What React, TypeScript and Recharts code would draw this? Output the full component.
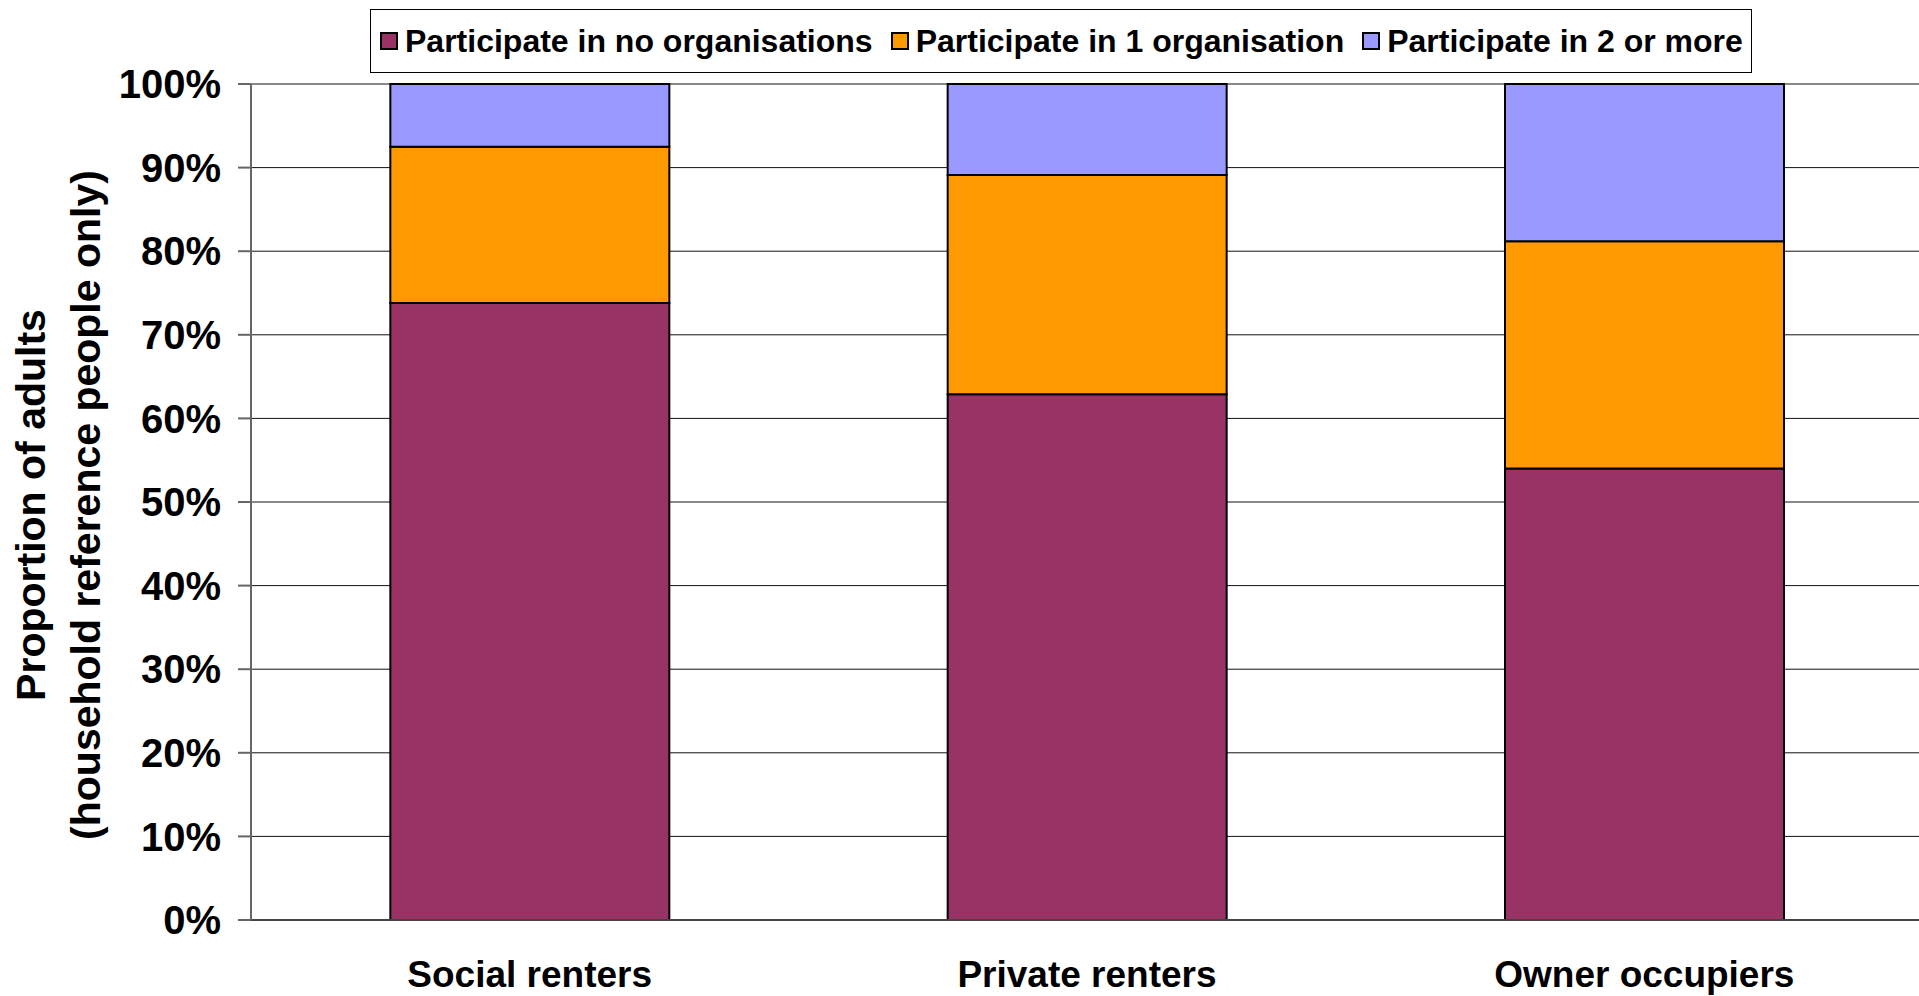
import React from 'react'
import { BarChart, Bar, XAxis, YAxis, CartesianGrid, Legend } from 'recharts'

// tenure groups along the x axis
const tenures = ['Social renters', 'Private renters', 'Owner occupiers']

// % of household reference people by number of organisations
const noOrgs = [73.8, 62.9, 54.0]
const oneOrg = [18.7, 26.2, 27.2]
const twoPlus = [7.5, 10.9, 18.8]

const seriesNames = [
  'Participate in no organisations',
  'Participate in 1 organisation',
  'Participate in 2 or more',
]

const yTicks = [0, 10, 20, 30, 40, 50, 60, 70, 80, 90, 100]
const bandEdges = [0, 1, 2, 3]

const data = tenures.map((name, i) => ({
  name,
  pos: i + 0.5,
  none: noOrgs[i],
  one: oneOrg[i],
  more: twoPlus[i],
}))

const FONT = "'Liberation Sans', Arial, Helvetica, sans-serif"

const AxisTitle = (props: any) => {
  const vb = props.viewBox || { y: 0, height: 0 }
  const cy = vb.y + vb.height / 2
  return (
    <text
      transform={`translate(0, ${cy + 3}) rotate(-90)`}
      textAnchor="middle"
      dominantBaseline="central"
      fontFamily={FONT}
      fontWeight="bold"
      fontSize={41}
      fill="#000"
    >
      <tspan x={0} y={31}>Proportion of adults</tspan>
      <tspan x={0} y={86}>(household reference people only)</tspan>
    </text>
  )
}

const LegendBox = (props: any) => {
  // keep the series order rather than alphabetical
  const items = [...(props.payload || [])].sort(
    (a: any, b: any) => seriesNames.indexOf(a.value) - seriesNames.indexOf(b.value)
  )
  return (
    <div
      style={{
        display: 'flex',
        alignItems: 'center',
        height: 62,
        border: '1px solid #000',
        background: '#fff',
        paddingLeft: 9,
        paddingRight: 8,
        gap: 18,
        fontFamily: FONT,
        fontWeight: 'bold',
        fontSize: 32,
        color: '#000',
        whiteSpace: 'nowrap',
      }}
    >
      {items.map((it: any) => (
        <div key={it.value} style={{ display: 'flex', alignItems: 'center', gap: 7 }}>
          <span
            style={{
              display: 'inline-block',
              width: 18,
              height: 18,
              background: it.color,
              border: '2px solid #000',
              boxSizing: 'border-box',
            }}
          />
          <span>{it.value}</span>
        </div>
      ))}
    </div>
  )
}

const App = () => {
  return (
    <div style={{ position: 'absolute', left: 0, top: 0 }}>
      <BarChart
        width={1919}
        height={996}
        data={data}
        margin={{ top: 84, right: -4, bottom: 0, left: 0 }}
        barCategoryGap="25%"
      >
        <CartesianGrid vertical={false} stroke="#111" strokeWidth={1} />
        <XAxis
          xAxisId="labels"
          dataKey="name"
          interval={0}
          axisLine={false}
          tickLine={false}
          tickSize={0}
          tickMargin={29}
          height={64}
          tick={{ fontFamily: FONT, fontWeight: 'bold', fontSize: 37, fill: '#000' }}
        />
        <XAxis
          type="number"
          dataKey="pos"
          domain={[0, 3]}
          ticks={bandEdges}
          tick={false}
          tickSize={12}
          height={12}
          stroke="#444"
          strokeWidth={2}
        />
        <YAxis
          width={251}
          domain={[0, 100]}
          ticks={yTicks}
          interval={0}
          tickFormatter={(v: number) => `${v}%`}
          tickSize={13}
          tickMargin={17}
          stroke="#666"
          strokeWidth={2}
          tick={{ fontFamily: FONT, fontWeight: 'bold', fontSize: 40, fill: '#000' }}
          label={{ content: AxisTitle }}
        />
        <Legend
          layout="horizontal"
          verticalAlign="middle"
          align="center"
          content={LegendBox}
          wrapperStyle={{ top: 9, left: 370, width: 'auto' }}
        />
        <Bar xAxisId="labels" dataKey="none" name={seriesNames[0]} stackId="a" fill="#993366" stroke="#000" strokeWidth={2} isAnimationActive={false} />
        <Bar xAxisId="labels" dataKey="one" name={seriesNames[1]} stackId="a" fill="#FF9900" stroke="#000" strokeWidth={2} isAnimationActive={false} />
        <Bar xAxisId="labels" dataKey="more" name={seriesNames[2]} stackId="a" fill="#9999FF" stroke="#000" strokeWidth={2} isAnimationActive={false} />
      </BarChart>
    </div>
  )
}

export default App
